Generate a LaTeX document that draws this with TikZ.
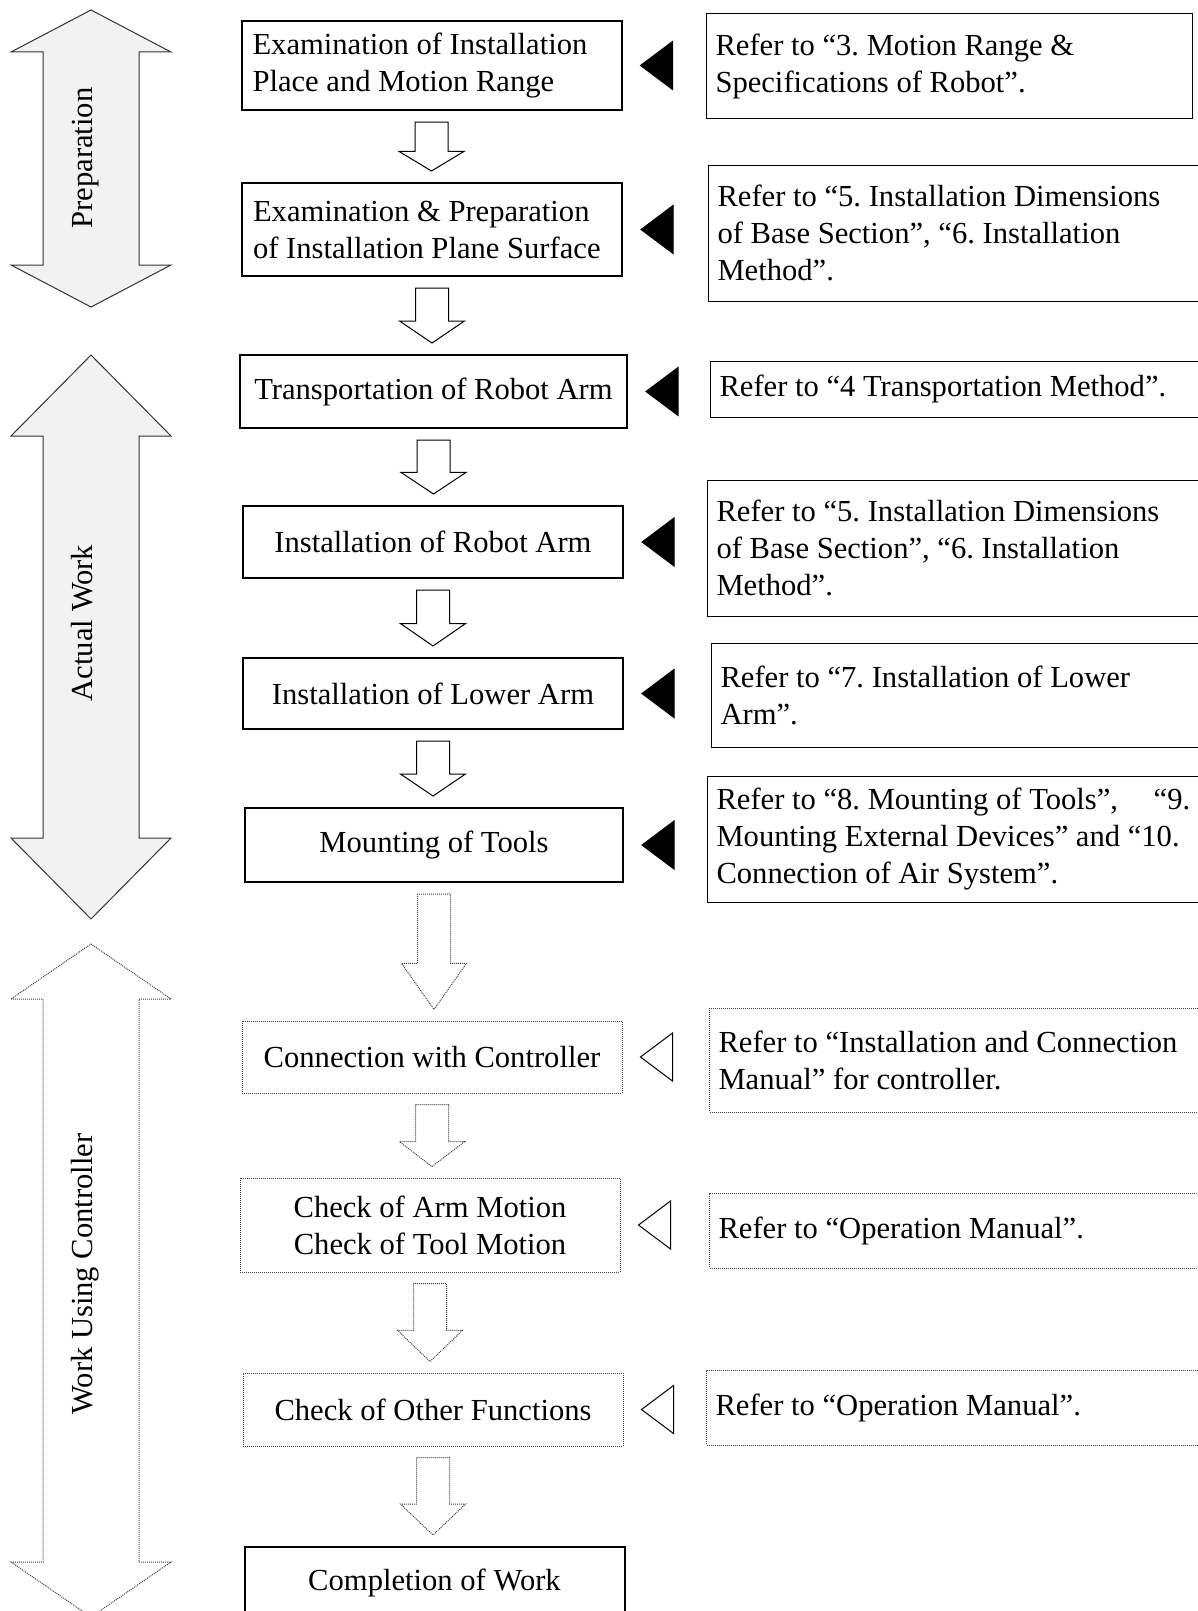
\documentclass[tikz,border=0pt]{standalone}
\usepackage{fontspec}
\setmainfont{Liberation Serif}
\usetikzlibrary{calc}
\definecolor{sidefill}{RGB}{242,242,242}
\tikzset{
    work box/.style={draw, line width=2pt, minimum width=380pt, minimum height=72pt, inner xsep=11pt},
    ref box/.style={draw, line width=1pt, anchor=west, text width=482pt, align=flush left, inner xsep=9pt},
    dots line/.style={draw=black!75, line width=1pt, dash pattern=on 1pt off 1pt},
    side solid/.style={draw=black!80, line width=1pt, fill=sidefill},
    side label/.style={rotate=90, anchor=base},
  }
% block arrow from the bottom of one box to the top of the next
\newcommand{\flowarrow}[3][]{%
  \draw[line width=1pt,#1] let \p1=($(#2.south)+(0,11)$), \p2=($(#3.north)+(0,-11)$), \n1={0.6*(\y2-\y1)} in
    (\x1-16.5pt,\y1) -- (\x1-16.5pt,\y1+\n1) -- (\x1-32.5pt,\y1+\n1) -- (\x1,\y2)
    -- (\x1+32.5pt,\y1+\n1) -- (\x1+16.5pt,\y1+\n1) -- (\x1+16.5pt,\y1) -- cycle;}
% small triangle pointing at a box
\newcommand{\refmark}[2][]{%
  \draw[line width=1pt,#1] ($(#2.east)+(18,0)$) -- ++(32,-24) -- ++(0,48) -- cycle;}
% double arrow on the left: top, bottom, head length
\newcommand{\sidearrow}[4][]{%
  \draw[#1] (91,#2) -- (171,#2+#4) -- (139,#2+#4) -- (139,#3-#4) -- (171,#3-#4) -- (91,#3)
    -- (11,#3-#4) -- (43,#3-#4) -- (43,#2+#4) -- (11,#2+#4) -- cycle;}
\begin{document}
\begin{tikzpicture}[x=1pt, y=-1pt, font=\fontsize{30.6}{37}\selectfont\frenchspacing]
    \useasboundingbox (0,0) rectangle (1198,1611);
    \clip (0,0) rectangle (1198,1611);

    %phases
    \sidearrow[side solid]{10}{307}{42}
    \sidearrow[side solid]{355}{919}{81}
    \sidearrow[dots line]{944}{1617}{55}
    \node[side label] (prep) at (92,158) {Preparation};
    \node[side label] (actual) at (92,623) {Actual Work};
    \node[side label] (ctrl) at (92,1274) {Work Using Controller};

    %steps
    \node[work box, text width=358pt, align=flush left, minimum height=89pt] (b1) at (431.5,65.5) {Examination of Installation\\Place and Motion Range};
    \node[work box, text width=358pt, align=flush left, minimum height=93pt] (b2) at (432,229.5) {Examination \& Preparation\\of Installation Plane Surface};
    \node[work box, minimum width=387pt, minimum height=73pt] (b3) at (433.5,391.5) {Transportation of Robot Arm};
    \node[work box] (b4) at (433,542) {Installation of Robot Arm};
    \node[work box, minimum height=71pt] (b5) at (433,693.5) {Installation of Lower Arm};
    \node[work box, minimum width=378pt, minimum height=74pt] (b6) at (434,845) {Mounting of Tools};
    \node[work box, dots line] (b7) at (432,1057) {Connection with Controller};
    \node[work box, dots line, align=flush center, minimum height=94pt] (b8) at (430,1225) {Check of Arm Motion\\Check of Tool Motion};
    \node[work box, dots line, minimum height=73pt] (b9) at (433,1409.5) {Check of Other Functions};
    \node[work box] (b10) at (434.5,1583) {Completion of Work};

    \flowarrow{b1}{b2}
    \flowarrow{b2}{b3}
    \flowarrow{b3}{b4}
    \flowarrow{b4}{b5}
    \flowarrow{b5}{b6}
    \flowarrow[dots line]{b6}{b7}
    \flowarrow[dots line]{b7}{b8}
    \flowarrow[dots line]{b8}{b9}
    \flowarrow[dots line]{b9}{b10}

    %references
    \node[ref box, text width=468pt, minimum height=104pt] (r1) at (706,66) {Refer to “3. Motion Range \&\\Specifications of Robot”.};
    \node[ref box, minimum height=136pt] (r2) at (708,233) {Refer to “5. Installation Dimensions\\of Base Section”, “6. Installation\\Method”.};
    \node[ref box, minimum height=56pt] (r3) at (710,389) {Refer to “4 Transportation Method”.};
    \node[ref box, minimum height=136pt] (r4) at (707,548) {Refer to “5. Installation Dimensions\\of Base Section”, “6. Installation\\Method”.};
    \node[ref box, minimum height=104pt] (r5) at (711,695) {Refer to “7. Installation of Lower\\Arm”.};
    \node[ref box, minimum height=126pt] (r6) at (707,839) {Refer to “8. Mounting of Tools”,\hspace{28pt} “9.\\Mounting External Devices” and “10.\\Connection of Air System”.};
    \node[ref box, dots line, minimum height=104pt] (r7) at (709,1060) {Refer to “Installation and Connection\\Manual” for controller.};
    \node[ref box, dots line, minimum height=75pt] (r8) at (709,1230.5) {Refer to “Operation Manual”.};
    \node[ref box, dots line, minimum height=75pt] (r9) at (706,1407.5) {Refer to “Operation Manual”.};

    \refmark[fill=black]{b1}
    \refmark[fill=black]{b2}
    \refmark[fill=black]{b3}
    \refmark[fill=black]{b4}
    \refmark[fill=black]{b5}
    \refmark[fill=black]{b6}
    \refmark{b7}
    \refmark{b8}
    \refmark{b9}
\end{tikzpicture}
\end{document}
